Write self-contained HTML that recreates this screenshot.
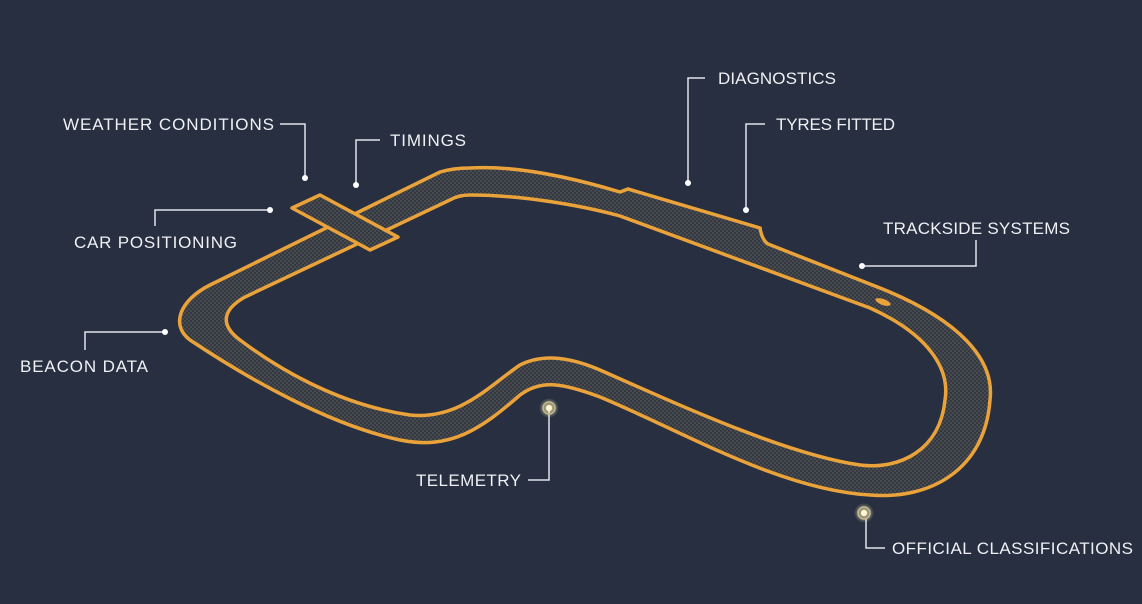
<!DOCTYPE html>
<html><head><meta charset="utf-8"><style>
html,body{margin:0;padding:0;background:#272f40;}
svg{display:block}
text{font-family:"Liberation Sans",sans-serif;font-size:17px;fill:#eef0f4;}
</style></head><body>
<svg width="1142" height="604" viewBox="0 0 1142 604" xmlns="http://www.w3.org/2000/svg">
<defs>
<pattern id="chk" width="4" height="4" patternUnits="userSpaceOnUse">
<rect width="4" height="4" fill="#34383f"/>
<rect width="2" height="2" fill="#474a50"/>
<rect x="2" y="2" width="2" height="2" fill="#474a50"/>
</pattern>
<radialGradient id="glow"><stop offset="0" stop-color="#fff6c0" stop-opacity="0.9"/><stop offset="1" stop-color="#fff6c0" stop-opacity="0"/></radialGradient>
</defs>
<rect width="1142" height="604" fill="#272f40"/>
<path d="M470,168 C520,165 580,180 620,192 L628,189 L760,228 Q762,240 768,244 L880,288 C960,320 995,360 990,400 C985,470 930,500 870,495 C780,490 680,430 600,397 C560,382 540,380 520,395 C480,430 450,450 400,440 C330,425 250,380 190,340 C170,325 180,300 210,285 L440,172 C450,169 460,168 470,168 Z" fill="url(#chk)" stroke="#eaa23a" stroke-width="3.5"/>
<path d="M470,195 C520,195 580,205 620,216 L870,308 C930,335 950,370 945,400 C940,450 900,470 860,465 C790,455 690,410 600,370 C565,355 540,355 520,365 C490,385 460,420 410,415 C340,405 280,370 240,340 C220,325 222,310 245,297 L450,200 C455,197 462,195 470,195 Z" fill="#272f40" stroke="#eaa23a" stroke-width="3.5"/>
<polygon points="292,208 320,195 398,237 370,250" fill="url(#chk)" stroke="#eaa23a" stroke-width="3.5" stroke-linejoin="round"/>
<ellipse cx="883" cy="302" rx="8" ry="3" fill="#eaa23a" transform="rotate(20 883 302)"/>
<g stroke="#dfe3ea" stroke-width="1.5" fill="none">
<polyline points="280,124 305,124 305,178"/>
<polyline points="380,140 356,140 356,185"/>
<polyline points="155,226 155,210 270,210"/>
<polyline points="85,350 85,332 165,332"/>
<polyline points="705,78 688,78 688,183"/>
<polyline points="765,124 746,124 746,210"/>
<polyline points="976,240 976,266 862,266"/>
<polyline points="528,480 549,480 549,410"/>
<polyline points="866,518 866,548 885,548"/>
</g>
<g fill="#ffffff">
<circle cx="305" cy="178" r="3"/><circle cx="356" cy="185" r="3"/><circle cx="270" cy="210" r="3"/>
<circle cx="165" cy="332" r="3"/><circle cx="688" cy="183" r="3"/><circle cx="746" cy="210" r="3"/>
<circle cx="862" cy="266" r="3"/>
</g>
<circle cx="549" cy="408" r="10" fill="url(#glow)"/>
<circle cx="549" cy="408" r="6" fill="none" stroke="#c9b98a" stroke-width="1.5"/>
<circle cx="549" cy="408" r="3" fill="#fff8d0"/>
<circle cx="864" cy="513" r="10" fill="url(#glow)"/>
<circle cx="864" cy="513" r="6" fill="none" stroke="#c9b98a" stroke-width="1.5"/>
<circle cx="864" cy="513" r="3" fill="#fff8d0"/>
<text x="63" y="130" textLength="211">WEATHER CONDITIONS</text>
<text x="390" y="146" textLength="76">TIMINGS</text>
<text x="74" y="248" textLength="163">CAR POSITIONING</text>
<text x="20" y="372" textLength="128">BEACON DATA</text>
<text x="718" y="84" textLength="118">DIAGNOSTICS</text>
<text x="776" y="130" textLength="119">TYRES FITTED</text>
<text x="883" y="234" textLength="187">TRACKSIDE SYSTEMS</text>
<text x="416" y="486" textLength="105">TELEMETRY</text>
<text x="892" y="554" textLength="241">OFFICIAL CLASSIFICATIONS</text>
</svg>
</body></html>
